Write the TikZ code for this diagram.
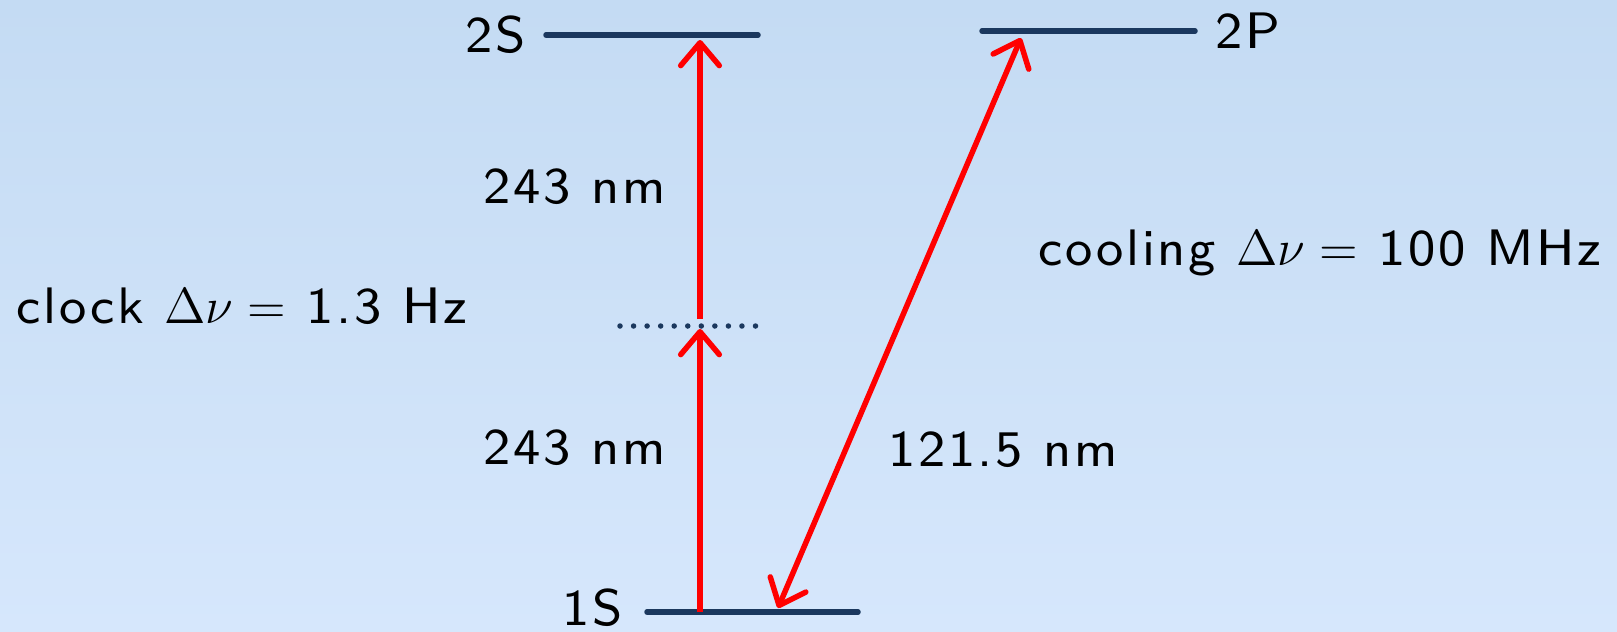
\documentclass[tikz,border=0pt]{standalone}
\usepackage{amsmath,amssymb}
\usepackage{fontspec}
\usepackage{xcolor}
\usepackage{tikz}
\usetikzlibrary{arrows.meta,positioning,calc}
\newfontfamily\lblfont{lmsans8-regular}[Extension=.otf, LetterSpace=5]
\definecolor{bgtop}{RGB}{196,219,243}
\definecolor{bgbot}{RGB}{214,231,252}
\definecolor{lvlcol}{RGB}{27,56,94}
\begin{document}
\begin{tikzpicture}[font=\lblfont\fontsize{14.6pt}{17pt}\selectfont,
  lvl/.style={draw=lvlcol, line width=0.055cm, line cap=round},
  beam/.style={draw=red, line width=0.055cm,
    arrows={-Straight Barb[round, length=6.5pt, width=11pt]}},
  lbl/.style={inner sep=0pt}]
\useasboundingbox (0,0) rectangle (16.17,6.31);
\fill[top color=bgtop, bottom color=bgbot] (0,0) rectangle (16.17,6.31);
% energy levels
\coordinate (s2a) at (5.46,5.96); \coordinate (s2b) at (7.58,5.96);
\coordinate (p2a) at (9.82,6.00); \coordinate (p2b) at (11.95,6.00);
\coordinate (s1a) at (6.47,0.19); \coordinate (s1b) at (8.58,0.19);
\coordinate (va) at (6.20,3.05); \coordinate (vb) at (7.69,3.05);
\draw[lvl] (s2a) -- (s2b); \draw[lvl] (p2a) -- (p2b); \draw[lvl] (s1a) -- (s1b);
\draw[lvl, dash pattern=on 0pt off 0.1355cm] (va) -- (vb);
\node[lbl, left=0.2cm of s2a] (s2) {2S};
\node[lbl, right=0.2cm of p2b] (p2) {2P};
\node[lbl, left=0.24cm of s1a, yshift=0.04cm] (s1) {1S};
% transitions
\coordinate (g1) at (7.00,0.19); \coordinate (v1) at (7.00,3.02);
\coordinate (v2) at (7.00,3.12); \coordinate (e1) at (7.00,5.91);
\coordinate (g2) at (7.78,0.23); \coordinate (e2) at (10.21,5.93);
\draw[beam] (g1) -- (v1); \draw[beam] (v2) -- (e1);
\draw[beam, arrows={Straight Barb[round, length=6.5pt, width=11pt]-Straight Barb[round, length=6.5pt, width=11pt]}] (g2) -- (e2);
\node (up) at (5.745,4.44) {243 nm};
\node (lo) at (5.745,1.83) {243 nm};
\node (ly) at (10.03,1.81) {121.5 nm};
\node (clk) at (2.42,3.25) {clock $\Delta\nu=$ 1.3 Hz};
\node (cool) at (13.20,3.78) {cooling $\Delta\nu=$ 100 MHz};
\end{tikzpicture}
\end{document}
